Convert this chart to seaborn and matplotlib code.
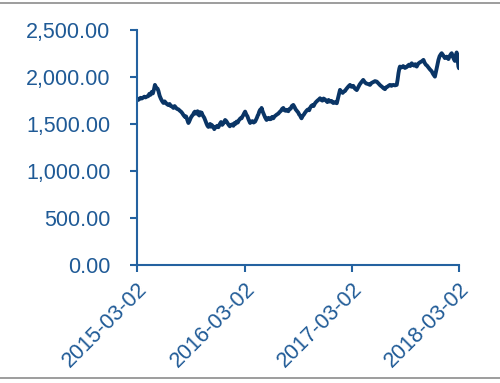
import matplotlib
matplotlib.use("Agg")
import matplotlib.pyplot as plt
from matplotlib.lines import Line2D
import seaborn as sns
import pandas as pd

sns.set_theme(style="white")
plt.rcParams['font.family'] = ['Liberation Sans', 'DejaVu Sans']

start_date = "2015-03-02"
# (days after start, index value)
observations = [
    (0, 1773), (4, 1755), (8, 1765), (12, 1778), (16, 1770), (21, 1780), (25, 1790), (29, 1782),
    (33, 1790), (38, 1795), (42, 1820), (46, 1810), (50, 1840), (54, 1825), (58, 1870), (61, 1915),
    (64, 1895), (67, 1880), (70, 1875), (73, 1850), (77, 1800), (81, 1770), (85, 1745), (90, 1723),
    (94, 1740), (98, 1725), (102, 1710), (107, 1700), (111, 1712), (115, 1690), (120, 1685),
    (124, 1670), (128, 1690), (132, 1675), (136, 1660), (141, 1655), (146, 1640), (150, 1630),
    (154, 1615), (158, 1595), (163, 1575), (167, 1580), (171, 1545), (175, 1510), (179, 1535),
    (183, 1565), (187, 1585), (191, 1600), (194, 1620), (197, 1631), (200, 1610), (203, 1615),
    (206, 1635), (209, 1600), (212, 1590), (215, 1625), (218, 1610), (220, 1620), (223, 1595),
    (226, 1580), (229, 1565), (231, 1550), (234, 1525), (237, 1500), (240, 1480), (243, 1468),
    (246, 1490), (249, 1500), (252, 1470), (254, 1490), (257, 1480), (260, 1470), (263, 1445),
    (265, 1455), (269, 1470), (273, 1480), (277, 1465), (282, 1500), (286, 1520), (290, 1490),
    (295, 1510), (300, 1542), (304, 1530), (308, 1510), (312, 1490), (316, 1475), (320, 1490),
    (324, 1495), (328, 1480), (332, 1510), (335, 1500), (339, 1525), (343, 1515), (347, 1540),
    (352, 1560), (356, 1560), (359, 1580), (362, 1595), (365, 1615), (368, 1631), (372, 1600),
    (376, 1580), (380, 1545), (385, 1510), (389, 1525), (393, 1530), (397, 1515), (402, 1525),
    (405, 1545), (408, 1565), (411, 1590), (413, 1600), (416, 1630), (419, 1650), (422, 1645),
    (424, 1670), (428, 1630), (432, 1600), (436, 1570), (441, 1542), (445, 1560), (448, 1565),
    (452, 1550), (456, 1552), (460, 1575), (464, 1560), (468, 1580), (472, 1590), (476, 1600),
    (481, 1610), (485, 1625), (490, 1640), (494, 1660), (498, 1670), (502, 1645), (506, 1640),
    (510, 1650), (515, 1635), (519, 1660), (523, 1662), (527, 1690), (532, 1702), (536, 1680),
    (540, 1655), (544, 1640), (549, 1620), (552, 1600), (555, 1590), (558, 1570), (560, 1560),
    (564, 1585), (568, 1600), (572, 1620), (577, 1640), (580, 1650), (583, 1655), (586, 1645),
    (589, 1670), (593, 1690), (597, 1700), (601, 1690), (606, 1720), (610, 1735), (615, 1750),
    (619, 1760), (623, 1773), (627, 1755), (631, 1748), (635, 1770), (640, 1760), (644, 1745),
    (648, 1732), (652, 1755), (657, 1737), (662, 1745), (668, 1722), (674, 1732), (680, 1720),
    (683, 1760), (686, 1800), (689, 1835), (691, 1862), (695, 1845), (700, 1830), (704, 1845),
    (708, 1850), (712, 1870), (716, 1885), (720, 1900), (725, 1915), (730, 1895), (736, 1905),
    (742, 1875), (748, 1860), (753, 1890), (758, 1920), (764, 1945), (770, 1968), (775, 1945),
    (780, 1930), (786, 1925), (793, 1915), (798, 1935), (804, 1945), (810, 1955), (816, 1950),
    (822, 1930), (828, 1910), (834, 1895), (839, 1880), (844, 1870), (848, 1890), (852, 1895),
    (856, 1905), (861, 1915), (866, 1905), (872, 1915), (878, 1910), (884, 1915), (887, 1970),
    (890, 2040), (893, 2090), (895, 2110), (900, 2100), (906, 2115), (912, 2095), (918, 2105),
    (922, 2120), (926, 2130), (930, 2115), (935, 2145), (939, 2130), (943, 2120), (947, 2135),
    (952, 2110), (957, 2140), (963, 2155), (969, 2165), (975, 2181), (979, 2150), (983, 2130),
    (987, 2120), (992, 2100), (997, 2080), (1003, 2060), (1008, 2030), (1014, 2003), (1018, 2060),
    (1022, 2120), (1026, 2180), (1030, 2220), (1034, 2240), (1037, 2252), (1042, 2230),
    (1048, 2200), (1054, 2215), (1060, 2190), (1064, 2220), (1068, 2240), (1071, 2252),
    (1074, 2230), (1077, 2200), (1080, 2180), (1082, 2170), (1085, 2220), (1088, 2260),
    (1090, 2230), (1092, 2170), (1094, 2110), (1096, 2092),
]
day_offsets = [d for d, _ in observations]
values = [v for _, v in observations]
y_ticks = [0, 500, 1000, 1500, 2000, 2500]
x_tick_labels = ["2015-03-02", "2016-03-02", "2017-03-02", "2018-03-02"]

start = pd.Timestamp(start_date)
df = pd.DataFrame({"date": [start + pd.Timedelta(days=d) for d in day_offsets],
                   "value": values})

text_color = "#1F5A96"
spine_color = "#2462A0"
line_color = "#0A3566"

fig = plt.figure(figsize=(5.0, 3.83), dpi=100)
ax = fig.add_axes([0.274, 0.308, 0.644, 0.614])

sns.lineplot(data=df, x="date", y="value", ax=ax, color=line_color, linewidth=2.8)

ax.set_xlim(pd.Timestamp(x_tick_labels[0]), pd.Timestamp(x_tick_labels[-1]))
ax.set_ylim(y_ticks[0], y_ticks[-1])
ax.set_yticks(y_ticks)
ax.set_yticklabels([f"{v:,.2f}" for v in y_ticks])
xt = [pd.Timestamp(s) for s in x_tick_labels]
ax.set_xticks(xt)
ax.set_xticklabels(x_tick_labels, rotation=45, ha="right", rotation_mode="anchor")
ax.set_xlabel("")
ax.set_ylabel("")

for s in ["top", "right"]:
    ax.spines[s].set_visible(False)
for s in ["left", "bottom"]:
    ax.spines[s].set_color(spine_color)
    ax.spines[s].set_linewidth(1.5)

ax.tick_params(axis="both", which="major", direction="out", length=5, width=1.5,
               color=spine_color, labelcolor=text_color, labelsize=15.5, pad=5,
               left=True, bottom=True)
ax.tick_params(axis="y", pad=14)

fig.add_artist(Line2D([0, 1], [1 - 3 / 383, 1 - 3 / 383], transform=fig.transFigure,
                      color="#8C8C8C", linewidth=1.2))
fig.add_artist(Line2D([0, 1], [1 - 378 / 383, 1 - 378 / 383], transform=fig.transFigure,
                      color="#8C8C8C", linewidth=1.2))

fig.savefig("out.png", dpi=100)
